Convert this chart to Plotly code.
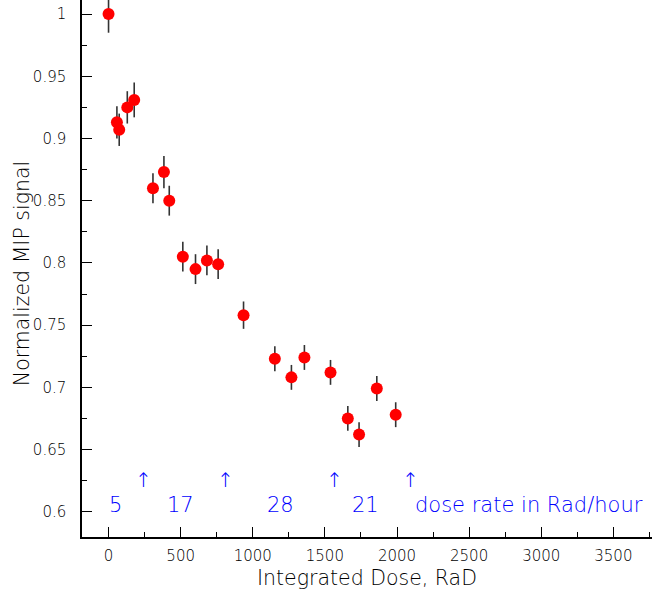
import plotly.graph_objects as go

dose = [0, 58, 74, 130, 178, 308, 384, 421, 515, 603, 682, 760, 936, 1153, 1268, 1358, 1539, 1659, 1737, 1860, 1991]
signal = [1.000, 0.913, 0.907, 0.925, 0.931, 0.860, 0.873, 0.850, 0.805, 0.795, 0.802, 0.799,
          0.758, 0.723, 0.708, 0.724, 0.712, 0.675, 0.662, 0.699, 0.678]
err = [0.015, 0.013, 0.013, 0.013, 0.014, 0.012, 0.013, 0.012, 0.012, 0.012, 0.012, 0.012,
       0.011, 0.010, 0.010, 0.010, 0.010, 0.010, 0.010, 0.010, 0.010]

rate_labels = ["5", "17", "28", "21"]
rate_x = [50, 500, 1190, 1780]
arrow_x = [243, 813, 1564, 2093]
note_text = "dose rate in Rad/hour"
note_x = 2915

FONT = "DejaVu Sans"
BLUE = "#0000ff"
INK = "#000000"

fig = go.Figure()
fig.add_trace(go.Scatter(
    x=dose, y=signal, mode="markers",
    marker=dict(color="#ff0000", size=12, line=dict(width=0)),
    error_y=dict(type="data", array=err, visible=True, color="#333333", thickness=1.6, width=0),
    showlegend=False,
))

annotations = []
for t, x in zip(rate_labels, rate_x):
    annotations.append(dict(x=x, y=0.6053, xref="x", yref="y", text=t, showarrow=False,
                            font=dict(family=FONT, size=21, color=BLUE, weight=300)))
for x in arrow_x:
    annotations.append(dict(x=x, y=0.6257, xref="x", yref="y", text="↑", showarrow=False,
                            font=dict(family=FONT, size=20, color=BLUE, weight=300)))
annotations.append(dict(x=note_x, y=0.6053, xref="x", yref="y", text=note_text, showarrow=False,
                        font=dict(family=FONT, size=21, color=BLUE, weight=300)))
annotations.append(dict(x=0.5, y=-0.076, xref="paper", yref="paper", text="Integrated Dose, RaD",
                        showarrow=False, font=dict(family=FONT, size=20.5, color=INK, weight=300),
                        yanchor="middle"))
annotations.append(dict(x=-0.105, y=0.4898, xref="paper", yref="paper", text="Normalized MIP signal",
                        showarrow=False, textangle=-90,
                        font=dict(family=FONT, size=20.5, color=INK, weight=300),
                        xanchor="center", yanchor="middle"))

fig.update_layout(
    width=652, height=598,
    margin=dict(l=82, r=0, t=0, b=61),
    plot_bgcolor="white", paper_bgcolor="white",
    font=dict(family=FONT, size=14, color=INK, weight=300),
    annotations=annotations,
)
fig.update_xaxes(
    range=[-184, 3768], showgrid=False, zeroline=False,
    showline=True, linecolor="black", linewidth=1.5,
    ticks="inside", ticklen=10, tickwidth=1.2, tickcolor="black",
    tick0=0, dtick=500,
    minor=dict(ticks="inside", ticklen=5, dtick=250, tick0=0, tickcolor="black", tickwidth=1),
    tickfont=dict(family=FONT, size=15, color=INK, weight=300),
    ticklabelstandoff=4,
)
fig.update_yaxes(
    range=[0.5797, 1.0113], showgrid=False, zeroline=False,
    showline=True, linecolor="black", linewidth=1.5,
    ticks="inside", ticklen=10, tickwidth=1.2, tickcolor="black",
    tick0=0.6, dtick=0.05,
    minor=dict(ticks="inside", ticklen=5, dtick=0.025, tick0=0.6, tickcolor="black", tickwidth=1),
    tickvals=[0.6, 0.65, 0.7, 0.75, 0.8, 0.85, 0.9, 0.95, 1.0],
    ticktext=["0.6", "0.65", "0.7", "0.75", "0.8", "0.85", "0.9", "0.95", "1"],
    tickfont=dict(family=FONT, size=15, color=INK, weight=300),
    ticklabelstandoff=11,
)

fig.write_html("out.html")
